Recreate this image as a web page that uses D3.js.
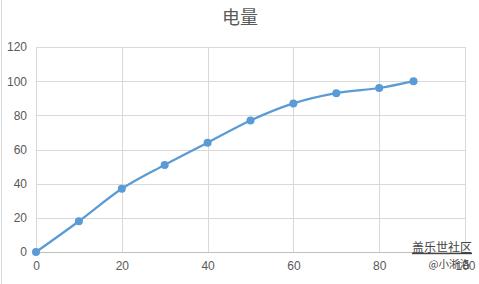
<!DOCTYPE html>
<html>
<head>
<meta charset="utf-8">
<script src="https://cdn.jsdelivr.net/npm/d3@7"></script>
<style>
  body { margin: 0; background: #fff; }
  svg { font-family: "Microsoft YaHei", "Noto Sans CJK SC", "Liberation Sans", sans-serif; }
</style>
</head>
<body>
<svg id="chart"></svg>
<script>
// chart data
const title = "电量";
const xValues = [0, 10, 20, 30, 40, 50, 60, 70, 80, 88];
const yValues = [0, 18, 37, 51, 64, 77, 87, 93, 96, 100];
const xTicks = [0, 20, 40, 60, 80, 100];
const yTicks = [0, 20, 40, 60, 80, 100, 120];

const W = 479, H = 284;
const margin = { top: 47, right: 14, bottom: 32, left: 36 },
  width = W - margin.left - margin.right,
  height = H - margin.top - margin.bottom;

const svg = d3.select("#chart").attr("width", W).attr("height", H);

// faint frame edge on the left
svg.append("line")
  .attr("x1", 1.5).attr("x2", 1.5).attr("y1", 0).attr("y2", H)
  .attr("stroke", "#d9d9d9");

svg.append("text")
  .attr("x", 240).attr("y", 24)
  .attr("text-anchor", "middle")
  .attr("font-size", 18)
  .attr("fill", "#595959")
  .text(title);

const g = svg.append("g")
  .attr("transform", "translate(" + margin.left + "," + margin.top + ")");

const x = d3.scaleLinear().domain([0, 100]).range([0, width]);
const y = d3.scaleLinear().domain([0, 120]).range([height, 0]);

// gridlines
g.append("g")
  .selectAll("line.h")
  .data(yTicks.slice(1))
  .enter().append("line")
  .attr("x1", 0).attr("x2", width)
  .attr("y1", d => Math.round(y(d)) + 0.5).attr("y2", d => Math.round(y(d)) + 0.5)
  .attr("stroke", "#d9d9d9");

g.append("g")
  .selectAll("line.v")
  .data(xTicks)
  .enter().append("line")
  .attr("y1", 0).attr("y2", height)
  .attr("x1", d => Math.round(x(d)) + 0.5).attr("x2", d => Math.round(x(d)) + 0.5)
  .attr("stroke", "#d9d9d9");

// axis baseline
g.append("line")
  .attr("x1", 0).attr("x2", width)
  .attr("y1", height + 0.5).attr("y2", height + 0.5)
  .attr("stroke", "#bfbfbf");

// tick labels
const yAxis = d3.axisLeft(y).tickValues(yTicks).tickSize(0).tickPadding(9);
g.append("g").call(yAxis)
  .call(a => a.select(".domain").remove())
  .selectAll("text")
  .attr("font-size", 12).attr("fill", "#595959")
  .style("font-family", "\"Liberation Sans\", sans-serif");

const xAxis = d3.axisBottom(x).tickValues(xTicks).tickSize(0).tickPadding(9);
g.append("g")
  .attr("transform", "translate(0," + height + ")")
  .call(xAxis)
  .call(a => a.select(".domain").remove())
  .selectAll("text")
  .attr("font-size", 12).attr("fill", "#595959")
  .style("font-family", "\"Liberation Sans\", sans-serif");

const data = xValues.map((v, i) => ({ x: v, y: yValues[i] }));

g.append("path")
  .datum(data)
  .attr("fill", "none")
  .attr("stroke", "#5b9bd5")
  .attr("stroke-width", 2.25)
  .attr("stroke-linejoin", "round")
  .attr("d", d3.line()
    .x(d => x(d.x))
    .y(d => y(d.y))
    .curve(d3.curveCatmullRom.alpha(0)));

g.selectAll(".dot")
  .data(data)
  .enter().append("circle")
  .attr("class", "dot")
  .attr("cx", d => x(d.x))
  .attr("cy", d => y(d.y))
  .attr("r", 4)
  .attr("fill", "#5b9bd5");

// watermark
svg.append("text")
  .attr("x", 472).attr("y", 252)
  .attr("text-anchor", "end")
  .attr("font-size", 12)
  .attr("fill", "#444")
  .attr("text-decoration", "underline")
  .text("盖乐世社区");
svg.append("text")
  .attr("x", 470).attr("y", 268)
  .attr("text-anchor", "end")
  .attr("font-size", 10.5)
  .attr("fill", "#444")
  .text("@小淅洛");
</script>
</body>
</html>
